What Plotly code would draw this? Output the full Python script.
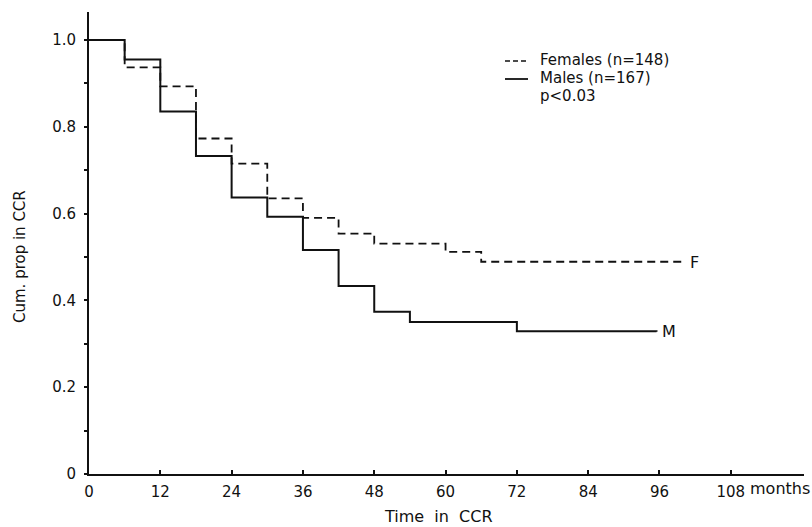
import plotly.graph_objects as go

# ---- data ----
male_t = [0, 6, 12, 18, 24, 30, 36, 42, 48, 54, 72, 95.5]
male_s = [1.0, 0.955, 0.835, 0.733, 0.637, 0.593, 0.516, 0.433, 0.374, 0.350, 0.329, 0.328]

female_t = [0, 6, 12, 18, 24, 30, 36, 42, 48, 60, 66, 100]
female_s = [1.0, 0.937, 0.893, 0.773, 0.715, 0.635, 0.590, 0.554, 0.531, 0.512, 0.489, 0.487]

x_tickvals = [0, 12, 24, 36, 48, 60, 72, 84, 96, 108]
x_ticktext = ["0", "12", "24", "36", "48", "60", "72", "84", "96", "108"]
y_tickvals = [0, 0.2, 0.4, 0.6, 0.8, 1.0]
y_ticktext = ["0", "0.2", "0.4", "0.6", "0.8", "1.0"]
y_minor = [0.1, 0.3, 0.5, 0.7, 0.9]

legend_labels = ["Females (n=148)", "Males (n=167)"]
p_text = "p<0.03"

# ---- layout geometry ----
W, H = 812, 527
L, R, T, B = 89, 8, 12, 53
PW, PH = W - L - R, H - T - B
BOT = H - B

def px(x):
    return (x - L) / PW

def py(y):
    return (BOT - y) / PH

FONT = "DejaVu Sans"
INK = "#111111"

fig = go.Figure()
fig.add_trace(go.Scatter(x=female_t, y=female_s, mode="lines", line_shape="hv",
                         line=dict(color=INK, width=1.8, dash="8px,5px"),
                         name=legend_labels[0], showlegend=False))
fig.add_trace(go.Scatter(x=male_t, y=male_s, mode="lines", line_shape="hv",
                         line=dict(color=INK, width=2),
                         name=legend_labels[1], showlegend=False))

annotations = [
    dict(x=female_t[-1], y=female_s[-1], xref="x", yref="y", text="F", showarrow=False,
         xanchor="left", yanchor="middle", xshift=5, font=dict(family=FONT, size=16, color=INK)),
    dict(x=male_t[-1], y=male_s[-1], xref="x", yref="y", text="M", showarrow=False,
         xanchor="left", yanchor="middle", xshift=3, font=dict(family=FONT, size=16, color=INK)),
    dict(x=x_tickvals[-1], y=py(488), xref="x", yref="paper", text="months", showarrow=False,
         xanchor="left", yanchor="middle", xshift=17, font=dict(family=FONT, size=16, color=INK)),
    dict(x=px(438), y=py(516), xref="paper", yref="paper", text="Time  in  CCR", showarrow=False,
         xanchor="center", yanchor="middle", font=dict(family=FONT, size=16, color=INK)),
    dict(x=px(20), y=py(257), xref="paper", yref="paper", text="Cum. prop in CCR", showarrow=False,
         textangle=-90, xanchor="center", yanchor="middle", font=dict(family=FONT, size=15, color=INK)),
    dict(x=px(538), y=py(60), xref="paper", yref="paper", text=legend_labels[0], showarrow=False,
         xanchor="left", yanchor="middle", font=dict(family=FONT, size=15, color=INK)),
    dict(x=px(538), y=py(78), xref="paper", yref="paper", text=legend_labels[1], showarrow=False,
         xanchor="left", yanchor="middle", font=dict(family=FONT, size=15, color=INK)),
    dict(x=px(538), y=py(96), xref="paper", yref="paper", text=p_text, showarrow=False,
         xanchor="left", yanchor="middle", font=dict(family=FONT, size=15, color=INK)),
]

shapes = [
    dict(type="line", xref="paper", yref="paper", x0=px(505), x1=px(528), y0=py(61), y1=py(61),
         line=dict(color=INK, width=1.6, dash="5px,3px")),
    dict(type="line", xref="paper", yref="paper", x0=px(505), x1=px(528), y0=py(79), y1=py(79),
         line=dict(color=INK, width=1.8)),
]

fig.update_layout(
    width=W, height=H,
    margin=dict(l=L, r=R, t=T, b=B, pad=0),
    paper_bgcolor="white", plot_bgcolor="white",
    showlegend=False,
    annotations=annotations, shapes=shapes,
    xaxis=dict(range=[0, PW / 5.9426], showgrid=False, zeroline=False,
               showline=True, linecolor=INK, linewidth=2,
               tickmode="array", tickvals=x_tickvals, ticktext=x_ticktext,
               ticks="inside", ticklen=4, tickwidth=1.5, tickcolor=INK,
               tickfont=dict(family=FONT, size=15, color=INK), ticklabelstandoff=3),
    yaxis=dict(range=[0, PH / 434.0], showgrid=False, zeroline=False,
               showline=True, linecolor=INK, linewidth=2,
               tickmode="array", tickvals=y_tickvals, ticktext=y_ticktext,
               ticks="outside", ticklen=3, tickwidth=1.5, tickcolor=INK,
               minor=dict(tickmode="array", tickvals=y_minor, ticks="outside", ticklen=3,
                          tickwidth=1.5, tickcolor=INK, showgrid=False),
               tickfont=dict(family=FONT, size=15, color=INK), ticklabelstandoff=5),
)

fig.write_html("out.html")
